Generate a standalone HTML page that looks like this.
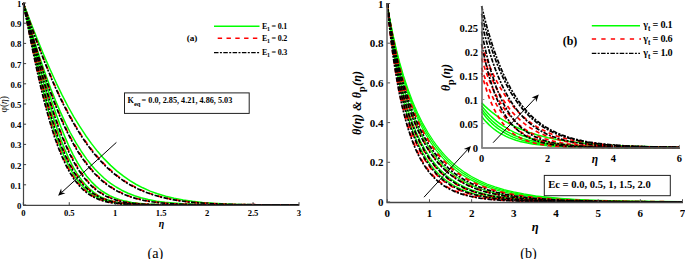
<!DOCTYPE html>
<html><head><meta charset="utf-8"><style>
html,body{margin:0;padding:0;background:#fff;width:685px;height:259px;overflow:hidden;}
svg{display:block;}
text{font-family:"Liberation Serif", serif;fill:#000;}
</style></head><body>
<svg width="685" height="259" viewBox="0 0 685 259" font-family='"Liberation Serif", serif'>
<rect width="685" height="259" fill="#fff"/>
<g stroke-linejoin="round">
<path d="M23.3 3.0L33.4 50.0L38.0 70.2L41.7 85.5L46.3 103.3L50.0 116.4L53.6 128.4L57.3 139.3L61.0 149.0L64.7 157.7L68.3 165.3L70.2 168.8L72.9 173.5L76.6 179.1L78.4 181.5L81.2 184.9L83.0 186.8L85.8 189.5L87.6 191.1L90.4 193.3L94.1 195.7L97.7 197.7L102.3 199.6L106.9 201.1L111.5 202.2L117.0 203.1L123.5 203.9L129.9 204.3L141.9 204.8L160.2 205.0L299.0 205.0" fill="none" stroke="#00ff00" stroke-width="1.50"/>
<path d="M23.3 3.0L38.9 65.6L46.3 93.4L50.0 106.3L53.6 118.4L57.3 129.5L61.0 139.8L64.7 149.1L68.3 157.4L72.0 164.8L73.8 168.2L76.6 172.8L80.3 178.3L82.1 180.7L84.9 184.1L86.7 186.1L89.5 188.8L94.1 192.6L97.7 195.1L101.4 197.1L106.0 199.2L110.6 200.7L115.2 201.9L120.7 202.9L127.1 203.7L133.6 204.2L146.4 204.7L164.8 205.0L299.0 205.0" fill="none" stroke="#00ff00" stroke-width="1.50"/>
<path d="M23.3 3.0L38.9 59.0L47.2 87.0L51.8 101.4L56.4 114.9L61.0 127.3L64.7 136.4L68.3 144.8L72.9 154.3L77.5 162.6L82.1 169.9L86.7 176.2L91.3 181.6L95.9 186.1L98.7 188.5L101.4 190.6L105.1 193.0L109.7 195.6L114.3 197.7L119.8 199.6L125.3 201.1L131.7 202.4L138.2 203.3L145.5 203.9L159.3 204.6L179.5 204.9L299.0 205.0" fill="none" stroke="#00ff00" stroke-width="1.50"/>
<path d="M23.3 3.0L28.8 22.2L34.3 40.4L39.8 57.7L45.4 73.9L50.9 88.9L55.5 100.6L60.1 111.4L65.6 123.4L70.2 132.5L75.7 142.4L81.2 151.2L86.7 159.1L92.2 166.0L95.0 169.2L98.7 173.0L104.2 178.2L106.9 180.5L110.6 183.3L116.1 187.0L121.6 190.2L128.1 193.3L134.5 195.8L140.9 197.8L148.3 199.6L156.6 201.2L164.8 202.3L173.1 203.1L182.3 203.8L193.3 204.3L205.3 204.6L236.5 204.9L299.0 205.0" fill="none" stroke="#00ff00" stroke-width="1.50"/>
<path d="M23.3 3.0L30.7 22.4L37.1 38.8L43.5 54.4L50.0 69.3L56.4 83.3L61.9 94.6L68.3 107.0L73.8 116.8L79.4 125.9L85.8 135.7L91.3 143.4L97.7 151.6L104.2 158.9L110.6 165.4L117.0 171.1L123.5 176.2L129.9 180.6L136.3 184.5L142.8 187.8L150.1 191.1L157.5 193.8L165.7 196.3L174.0 198.3L183.2 200.0L192.4 201.3L202.5 202.4L213.5 203.3L225.5 203.9L239.3 204.4L254.9 204.7L299.0 205.0" fill="none" stroke="#00ff00" stroke-width="1.50"/>
<path d="M23.3 3.0L32.5 48.6L37.1 69.8L40.8 85.7L44.4 100.6L48.1 114.3L51.8 126.8L55.5 138.1L59.1 148.2L62.8 157.1L66.5 165.0L68.3 168.5L71.1 173.3L74.8 179.0L76.6 181.5L79.4 184.8L81.2 186.9L84.0 189.6L85.8 191.2L88.5 193.3L92.2 195.8L95.9 197.7L100.5 199.7L105.1 201.1L109.7 202.2L115.2 203.2L121.6 203.9L128.1 204.4L140.0 204.8L158.4 205.0L299.0 205.0" fill="none" stroke="#ff0000" stroke-width="1.70" stroke-dasharray="4.8 4.6" stroke-dashoffset="0.00"/>
<path d="M23.3 3.0L35.2 54.8L39.8 73.7L43.5 88.0L47.2 101.6L50.9 114.2L54.5 125.8L58.2 136.5L61.9 146.2L65.6 154.8L69.2 162.5L71.1 166.0L73.8 170.8L75.7 173.8L78.4 177.9L80.3 180.3L83.0 183.7L84.9 185.7L87.6 188.4L92.2 192.3L95.9 194.8L99.6 196.8L104.2 198.9L108.8 200.5L114.3 201.9L119.8 202.9L126.2 203.7L132.7 204.2L145.5 204.7L163.9 205.0L299.0 205.0" fill="none" stroke="#ff0000" stroke-width="1.70" stroke-dasharray="4.8 4.6" stroke-dashoffset="0.00"/>
<path d="M23.3 3.0L37.1 55.6L41.7 72.4L45.4 85.3L50.0 100.6L53.6 112.0L58.2 125.2L61.9 134.9L65.6 143.7L70.2 153.7L74.8 162.5L79.4 170.0L84.0 176.5L88.5 182.0L93.1 186.7L95.9 189.0L98.7 191.2L102.3 193.6L106.9 196.2L111.5 198.2L117.0 200.1L122.6 201.5L128.1 202.5L134.5 203.4L141.9 204.0L155.6 204.7L174.9 204.9L299.0 205.0" fill="none" stroke="#ff0000" stroke-width="1.70" stroke-dasharray="4.8 4.6" stroke-dashoffset="0.00"/>
<path d="M23.3 3.0L28.8 22.9L34.3 41.9L39.8 59.9L44.4 74.0L50.0 89.8L54.5 102.0L59.1 113.3L64.7 125.7L69.2 135.1L74.8 145.3L79.4 152.9L84.9 161.0L90.4 168.1L95.9 174.3L101.4 179.5L104.2 181.9L107.8 184.7L113.4 188.5L118.9 191.6L124.4 194.2L130.8 196.7L137.3 198.6L144.6 200.4L152.0 201.7L160.2 202.7L168.5 203.5L177.7 204.0L187.8 204.4L199.7 204.7L231.0 205.0L299.0 205.0" fill="none" stroke="#ff0000" stroke-width="1.70" stroke-dasharray="4.8 4.6" stroke-dashoffset="0.00"/>
<path d="M23.3 3.0L29.7 21.7L35.2 37.0L41.7 54.0L47.2 67.7L53.6 82.8L59.1 94.8L64.7 106.1L70.2 116.5L75.7 126.1L82.1 136.4L87.6 144.4L94.1 152.8L100.5 160.2L106.9 166.8L113.4 172.6L119.8 177.7L126.2 182.1L132.7 185.8L139.1 189.1L146.4 192.2L153.8 194.8L162.1 197.1L170.3 199.0L179.5 200.6L188.7 201.8L198.8 202.8L209.9 203.5L221.8 204.1L235.6 204.5L252.1 204.7L299.0 205.0" fill="none" stroke="#ff0000" stroke-width="1.70" stroke-dasharray="4.8 4.6" stroke-dashoffset="0.00"/>
<path d="M23.3 3.0L27.9 26.6L32.5 49.4L36.2 66.8L39.8 83.1L43.5 98.4L47.2 112.4L50.9 125.3L54.5 136.9L58.2 147.2L61.9 156.4L65.6 164.4L67.4 168.0L70.2 173.0L73.8 178.7L75.7 181.3L78.4 184.7L80.3 186.8L83.0 189.5L84.9 191.2L87.6 193.3L91.3 195.8L95.0 197.8L98.7 199.4L103.3 200.9L107.8 202.1L113.4 203.1L119.8 203.9L126.2 204.3L138.2 204.8L156.6 205.0L299.0 205.0" fill="none" stroke="#000000" stroke-width="1.70" stroke-dasharray="4.5 1.4 2 1.4"/>
<path d="M23.3 3.0L34.3 51.7L38.9 71.0L42.6 85.7L47.2 102.9L50.9 115.6L54.5 127.3L58.2 137.9L61.9 147.6L65.6 156.2L69.2 163.8L71.1 167.2L73.8 172.0L75.7 174.9L78.4 178.9L80.3 181.3L83.0 184.6L84.9 186.5L87.6 189.2L92.2 192.9L95.9 195.3L99.6 197.3L104.2 199.3L108.8 200.8L114.3 202.2L119.8 203.1L126.2 203.8L132.7 204.3L145.5 204.8L163.9 205.0L299.0 205.0" fill="none" stroke="#000000" stroke-width="1.70" stroke-dasharray="4.5 1.4 2 1.4"/>
<path d="M23.3 3.0L37.1 56.4L41.7 73.4L45.4 86.4L50.0 101.8L53.6 113.2L58.2 126.5L61.9 136.2L65.6 145.0L70.2 154.9L73.8 162.0L78.4 169.7L83.0 176.3L87.6 181.9L92.2 186.6L95.0 189.0L97.7 191.1L101.4 193.6L106.0 196.2L110.6 198.2L116.1 200.1L121.6 201.6L127.1 202.6L133.6 203.4L140.9 204.1L154.7 204.7L174.0 204.9L299.0 205.0" fill="none" stroke="#000000" stroke-width="1.70" stroke-dasharray="4.5 1.4 2 1.4"/>
<path d="M23.3 3.0L28.8 23.2L34.3 42.4L39.8 60.6L44.4 74.8L50.0 90.7L54.5 102.9L59.1 114.3L63.7 124.8L68.3 134.3L73.8 144.7L78.4 152.4L84.0 160.6L89.5 167.8L95.0 174.0L100.5 179.4L103.3 181.8L106.9 184.6L112.4 188.4L118.0 191.5L123.5 194.2L129.9 196.7L136.3 198.6L143.7 200.4L151.0 201.7L159.3 202.7L167.6 203.5L176.8 204.0L186.9 204.4L198.8 204.7L230.1 205.0L299.0 205.0" fill="none" stroke="#000000" stroke-width="1.70" stroke-dasharray="4.5 1.4 2 1.4"/>
<path d="M23.3 3.0L29.7 21.9L35.2 37.3L41.7 54.5L47.2 68.3L53.6 83.5L59.1 95.6L64.7 106.9L70.2 117.3L75.7 126.9L81.2 135.8L86.7 143.9L93.1 152.4L99.6 159.9L106.0 166.6L112.4 172.4L118.9 177.5L125.3 182.0L131.7 185.8L138.2 189.0L145.5 192.2L152.9 194.8L161.2 197.1L169.4 199.0L178.6 200.6L187.8 201.8L197.9 202.8L208.9 203.5L220.9 204.1L234.7 204.5L251.2 204.7L299.0 205.0" fill="none" stroke="#000000" stroke-width="1.70" stroke-dasharray="4.5 1.4 2 1.4"/>
</g>
<path d="M23.5 2.50V205.4" fill="none" stroke="#444" stroke-width="1.2"/>
<path d="M23 205.4H299.40" fill="none" stroke="#444" stroke-width="1.3"/>
<path d="M23.30 205.00h2.8M23.30 184.80h2.8M23.30 164.60h2.8M23.30 144.40h2.8M23.30 124.20h2.8M23.30 104.00h2.8M23.30 83.80h2.8M23.30 63.60h2.8M23.30 43.40h2.8M23.30 23.20h2.8M23.30 3.00h2.8M23.30 205.00v-2.8M69.25 205.00v-2.8M115.20 205.00v-2.8M161.15 205.00v-2.8M207.10 205.00v-2.8M253.05 205.00v-2.8M299.00 205.00v-2.8" stroke="#404040" stroke-width="1" fill="none"/>
<text x="21.40" y="209.00" font-size="8.80" text-anchor="end" font-weight="bold" font-style="normal" >0</text>
<text x="21.40" y="188.80" font-size="8.80" text-anchor="end" font-weight="bold" font-style="normal" >0.1</text>
<text x="21.40" y="168.60" font-size="8.80" text-anchor="end" font-weight="bold" font-style="normal" >0.2</text>
<text x="21.40" y="148.40" font-size="8.80" text-anchor="end" font-weight="bold" font-style="normal" >0.3</text>
<text x="21.40" y="128.20" font-size="8.80" text-anchor="end" font-weight="bold" font-style="normal" >0.4</text>
<text x="21.40" y="108.00" font-size="8.80" text-anchor="end" font-weight="bold" font-style="normal" >0.5</text>
<text x="21.40" y="87.80" font-size="8.80" text-anchor="end" font-weight="bold" font-style="normal" >0.6</text>
<text x="21.40" y="67.60" font-size="8.80" text-anchor="end" font-weight="bold" font-style="normal" >0.7</text>
<text x="21.40" y="47.40" font-size="8.80" text-anchor="end" font-weight="bold" font-style="normal" >0.8</text>
<text x="21.40" y="27.20" font-size="8.80" text-anchor="end" font-weight="bold" font-style="normal" >0.9</text>
<text x="21.40" y="7.00" font-size="8.80" text-anchor="end" font-weight="bold" font-style="normal" >1</text>
<text x="23.30" y="216.20" font-size="8.60" text-anchor="middle" font-weight="bold" font-style="normal" >0</text>
<text x="69.25" y="216.20" font-size="8.60" text-anchor="middle" font-weight="bold" font-style="normal" >0.5</text>
<text x="115.20" y="216.20" font-size="8.60" text-anchor="middle" font-weight="bold" font-style="normal" >1</text>
<text x="161.15" y="216.20" font-size="8.60" text-anchor="middle" font-weight="bold" font-style="normal" >1.5</text>
<text x="207.10" y="216.20" font-size="8.60" text-anchor="middle" font-weight="bold" font-style="normal" >2</text>
<text x="253.05" y="216.20" font-size="8.60" text-anchor="middle" font-weight="bold" font-style="normal" >2.5</text>
<text x="299.00" y="216.20" font-size="8.60" text-anchor="middle" font-weight="bold" font-style="normal" >3</text>
<text x="161.50" y="227.20" font-size="10.00" text-anchor="middle" font-weight="bold" font-style="italic" >&#951;</text>
<text x="0.00" y="0.00" font-size="9.50" text-anchor="middle" font-weight="normal" font-style="normal" transform="translate(6.8,104.3) rotate(-90)">&#966;(<tspan font-style="italic">&#951;</tspan>)</text>
<path d="M214 26.3H259.5" stroke="#00ff00" stroke-width="1.5"/>
<path d="M217.7 38.3H259.5" stroke="#ff0000" stroke-width="1.5" stroke-dasharray="4.4 4.4"/>
<path d="M214 52.6H259.5" stroke="#000000" stroke-width="1.4" stroke-dasharray="4.5 1.4 2 1.4"/>
<text x="262" y="28.70" font-size="8" font-weight="bold" letter-spacing="-0.25">E<tspan font-size="6" dy="2.4">1</tspan><tspan dy="-2.4"> = 0.1</tspan></text>
<text x="262" y="40.70" font-size="8" font-weight="bold" letter-spacing="-0.25">E<tspan font-size="6" dy="2.4">1</tspan><tspan dy="-2.4"> = 0.2</tspan></text>
<text x="262" y="55.00" font-size="8" font-weight="bold" letter-spacing="-0.25">E<tspan font-size="6" dy="2.4">1</tspan><tspan dy="-2.4"> = 0.3</tspan></text>
<text x="192.00" y="40.80" font-size="9.20" text-anchor="middle" font-weight="bold" font-style="normal" >(a)</text>
<rect x="124.5" y="92.9" width="124.7" height="20.5" fill="#fff" stroke="#202020" stroke-width="1"/>
<text x="127.5" y="102.6" font-size="8.2" font-weight="bold">K<tspan font-size="6.6" dy="3.2">eq</tspan><tspan dy="-3.2" dx="-0.9"> = 0.0, 2.85, 4.21, 4.86, 5.03</tspan></text>
<path d="M116.40 142.40L61.72 192.39" stroke="#000" stroke-width="1.00"/><path d="M58.10 195.70L61.11 188.62L61.72 192.39L65.43 193.34Z" fill="#000"/>
<text x="155.30" y="258.30" font-size="14.20" text-anchor="middle" font-weight="normal" font-style="normal" >(a)</text>
<g stroke-linejoin="round">
<path d="M387.3 3.5L388.8 17.8L391.0 35.1L393.9 54.7L396.9 71.3L399.8 85.8L402.8 98.4L406.5 112.0L410.2 123.7L413.9 133.7L416.1 139.1L418.3 144.0L420.5 148.5L422.7 152.6L427.2 159.9L429.4 163.1L432.3 167.0L434.5 169.6L437.5 172.8L440.4 175.7L443.4 178.2L446.3 180.6L449.3 182.6L452.2 184.5L455.2 186.2L461.1 189.1L467.7 191.7L474.4 193.8L481.8 195.6L490.6 197.2L499.5 198.4L509.8 199.5L520.9 200.2L532.7 200.8L546.7 201.2L562.9 201.5L605.7 201.9L682.5 202.0" fill="none" stroke="#00ff00" stroke-width="1.25"/>
<path d="M387.3 3.5L388.8 16.5L391.7 37.1L394.7 54.4L397.6 69.5L400.6 82.7L404.3 97.1L408.0 109.6L410.2 116.3L412.4 122.4L416.1 131.7L420.5 141.2L424.9 149.4L427.2 153.0L430.1 157.5L432.3 160.5L435.3 164.2L437.5 166.8L440.4 170.0L443.4 172.8L446.3 175.4L449.3 177.7L453.0 180.4L458.9 184.0L465.5 187.3L472.2 190.0L479.6 192.4L487.7 194.5L496.5 196.2L506.1 197.7L516.5 198.8L527.5 199.7L540.1 200.4L554.1 200.9L570.3 201.3L612.4 201.8L682.5 202.0" fill="none" stroke="#00ff00" stroke-width="1.25"/>
<path d="M387.3 3.5L388.8 15.1L391.7 33.7L394.7 49.5L398.4 66.6L402.1 81.5L405.8 94.4L409.4 105.8L413.9 117.7L418.3 128.0L422.7 137.0L424.9 141.0L427.9 146.0L430.1 149.4L433.1 153.6L438.2 160.2L441.2 163.5L444.1 166.6L447.1 169.4L450.8 172.6L453.7 174.9L457.4 177.5L460.4 179.4L464.1 181.6L470.7 184.9L478.1 188.0L485.5 190.5L494.3 192.9L503.2 194.8L512.8 196.4L523.8 197.8L535.6 198.9L548.2 199.8L562.2 200.4L578.4 201.0L597.6 201.4L619.8 201.6L682.5 201.9" fill="none" stroke="#00ff00" stroke-width="1.25"/>
<path d="M387.3 3.5L388.0 9.0L389.5 18.4L392.5 34.5L395.4 48.5L399.1 63.9L402.8 77.5L407.2 91.7L411.7 104.1L416.1 114.9L420.5 124.5L422.7 128.8L425.7 134.2L430.8 142.6L433.8 146.9L436.7 150.8L439.7 154.5L442.7 157.9L445.6 161.0L448.6 163.9L451.5 166.6L455.2 169.7L458.1 171.9L461.8 174.5L468.5 178.6L475.9 182.4L483.2 185.6L491.4 188.5L500.2 191.1L509.8 193.3L520.1 195.1L531.2 196.7L543.0 198.0L555.6 199.0L570.3 199.8L586.6 200.5L605.0 201.0L626.4 201.4L682.5 201.8" fill="none" stroke="#00ff00" stroke-width="1.25"/>
<path d="M387.3 3.5L388.0 8.8L389.5 17.8L392.5 33.4L396.2 50.2L399.8 64.8L403.5 77.7L408.0 91.4L412.4 103.3L416.8 113.8L421.2 123.1L426.4 132.6L431.6 140.9L434.5 145.2L437.5 149.1L440.4 152.7L443.4 156.1L449.3 162.2L452.2 164.9L455.9 168.0L459.6 170.8L463.3 173.4L470.0 177.5L477.3 181.4L485.5 184.9L493.6 187.8L502.4 190.4L512.0 192.6L522.4 194.6L533.4 196.2L545.2 197.5L558.5 198.7L572.5 199.6L588.8 200.3L607.2 200.8L627.9 201.3L682.5 201.8" fill="none" stroke="#00ff00" stroke-width="1.25"/>
<path d="M387.3 3.5L388.0 8.7L389.5 17.3L392.5 32.4L396.2 48.8L399.8 63.0L403.5 75.7L408.0 89.1L412.4 100.9L414.6 106.2L417.6 112.9L422.7 123.4L427.9 132.5L433.1 140.5L436.0 144.6L439.0 148.5L441.9 152.0L444.9 155.3L447.8 158.4L451.5 162.0L454.5 164.6L458.1 167.6L464.8 172.4L471.4 176.5L478.8 180.4L486.9 184.0L495.0 186.9L503.9 189.6L513.5 191.9L523.8 193.9L535.6 195.8L547.4 197.1L560.7 198.3L574.8 199.3L591.0 200.1L608.7 200.7L629.4 201.1L682.5 201.7" fill="none" stroke="#00ff00" stroke-width="1.25"/>
<path d="M387.3 3.5L388.8 19.8L391.0 39.3L393.2 55.9L396.2 74.9L399.1 90.9L402.1 104.7L405.0 116.6L408.0 126.9L411.7 137.9L415.3 147.2L419.0 155.0L421.2 159.2L423.5 162.9L425.7 166.3L427.9 169.4L430.1 172.3L433.1 175.6L435.3 177.9L438.2 180.6L441.2 183.0L444.1 185.1L449.3 188.2L454.5 190.8L460.4 193.1L467.0 195.1L474.4 196.8L481.8 198.1L490.6 199.2L501.0 200.1L511.3 200.7L522.4 201.2L551.9 201.7L594.7 201.9L682.5 202.0" fill="none" stroke="#ff0000" stroke-width="1.80" stroke-dasharray="4.8 4.6" stroke-dashoffset="0.00"/>
<path d="M387.3 3.5L388.8 18.5L391.0 36.7L393.2 52.3L396.2 70.2L399.1 85.6L402.1 98.9L405.8 113.2L409.4 125.4L413.1 135.7L416.8 144.6L419.0 149.3L421.2 153.6L423.5 157.5L425.7 161.1L430.1 167.4L432.3 170.1L435.3 173.4L438.2 176.4L441.2 179.0L444.1 181.4L447.1 183.5L452.2 186.7L458.1 189.6L464.8 192.3L471.4 194.3L478.8 196.1L486.9 197.5L495.8 198.7L506.1 199.7L516.5 200.4L528.3 200.9L542.3 201.3L558.5 201.6L601.3 201.9L682.5 202.0" fill="none" stroke="#ff0000" stroke-width="1.80" stroke-dasharray="4.8 4.6" stroke-dashoffset="0.00"/>
<path d="M387.3 3.5L388.8 17.0L391.7 38.4L394.7 56.3L397.6 71.8L400.6 85.3L404.3 100.0L408.0 112.6L411.7 123.5L415.3 133.0L417.6 138.1L419.8 142.7L424.2 151.0L426.4 154.7L429.4 159.2L431.6 162.3L434.5 166.0L436.7 168.5L439.7 171.6L442.7 174.4L445.6 177.0L448.6 179.3L451.5 181.4L457.4 184.9L463.3 187.9L470.0 190.6L477.3 193.0L485.5 195.0L493.6 196.6L503.2 198.0L513.5 199.1L524.6 199.9L536.4 200.5L550.4 201.0L567.4 201.4L609.4 201.8L682.5 202.0" fill="none" stroke="#ff0000" stroke-width="1.80" stroke-dasharray="4.8 4.6" stroke-dashoffset="0.00"/>
<path d="M387.3 3.5L388.8 15.4L391.7 34.6L394.7 50.9L398.4 68.4L401.3 80.7L405.0 94.2L408.7 106.0L413.1 118.3L417.6 128.9L422.0 138.1L424.2 142.2L427.2 147.2L429.4 150.7L432.3 155.0L434.5 158.0L437.5 161.6L440.4 164.9L443.4 168.0L446.3 170.7L449.3 173.3L452.2 175.6L455.9 178.3L461.8 181.9L468.5 185.3L475.9 188.5L483.2 191.0L491.4 193.2L501.0 195.2L510.5 196.8L521.6 198.1L532.7 199.1L545.2 199.9L560.0 200.6L576.2 201.1L594.7 201.4L617.6 201.7L682.5 201.9" fill="none" stroke="#ff0000" stroke-width="1.80" stroke-dasharray="4.8 4.6" stroke-dashoffset="0.00"/>
<path d="M387.3 3.5L388.0 9.2L389.5 18.8L392.5 35.3L395.4 49.7L399.1 65.4L402.8 79.2L406.5 91.3L410.9 104.1L415.3 115.3L419.8 125.1L422.0 129.5L424.9 135.0L430.1 143.5L435.3 150.9L438.2 154.7L441.2 158.1L444.1 161.4L447.1 164.3L450.0 167.0L453.7 170.2L456.7 172.5L460.4 175.1L467.0 179.2L470.7 181.2L474.4 183.0L481.8 186.2L489.9 189.1L498.7 191.6L507.6 193.6L517.9 195.4L529.0 197.0L540.8 198.2L553.4 199.2L568.1 200.0L584.3 200.6L602.8 201.1L624.2 201.5L682.5 201.9" fill="none" stroke="#ff0000" stroke-width="1.80" stroke-dasharray="4.8 4.6" stroke-dashoffset="0.00"/>
<path d="M387.3 3.5L388.8 20.1L391.0 40.0L393.2 56.8L396.2 76.0L399.1 92.2L402.1 106.0L405.0 117.9L408.0 128.3L411.7 139.3L415.3 148.5L419.0 156.3L421.2 160.4L423.5 164.1L425.7 167.5L427.9 170.6L430.1 173.3L432.3 175.8L434.5 178.1L437.5 180.9L440.4 183.3L443.4 185.4L448.6 188.5L453.7 191.1L459.6 193.4L466.3 195.4L472.9 196.9L481.0 198.3L489.9 199.4L499.5 200.2L509.1 200.7L520.9 201.2L550.4 201.7L593.2 201.9L682.5 202.0" fill="none" stroke="#000000" stroke-width="1.70" stroke-dasharray="4.5 1.4 2 1.4"/>
<path d="M387.3 3.5L388.8 18.3L391.0 36.2L393.9 56.3L396.9 73.3L399.8 88.0L402.8 100.8L406.5 114.6L410.2 126.3L413.9 136.4L417.6 145.0L419.8 149.6L422.0 153.7L424.2 157.6L426.4 161.1L430.8 167.3L433.1 170.0L436.0 173.3L439.0 176.2L441.9 178.8L444.9 181.2L447.8 183.3L453.0 186.4L458.9 189.4L465.5 192.0L472.2 194.1L479.6 195.9L487.7 197.4L497.3 198.7L507.6 199.7L517.9 200.3L529.7 200.9L543.8 201.3L560.0 201.6L602.8 201.9L682.5 202.0" fill="none" stroke="#000000" stroke-width="1.70" stroke-dasharray="4.5 1.4 2 1.4"/>
<path d="M387.3 3.5L388.8 16.9L391.7 38.1L394.7 55.9L397.6 71.2L400.6 84.7L404.3 99.3L408.0 111.9L411.7 122.8L415.3 132.2L417.6 137.3L419.8 142.0L424.2 150.3L426.4 154.0L429.4 158.5L431.6 161.6L434.5 165.4L436.7 167.9L439.7 171.1L442.7 173.9L445.6 176.5L448.6 178.8L451.5 180.9L457.4 184.5L463.3 187.5L470.0 190.3L477.3 192.7L485.5 194.8L494.3 196.5L503.9 197.9L514.2 199.0L525.3 199.9L537.9 200.5L551.9 201.0L568.1 201.4L610.2 201.8L682.5 202.0" fill="none" stroke="#000000" stroke-width="1.70" stroke-dasharray="4.5 1.4 2 1.4"/>
<path d="M387.3 3.5L388.8 15.6L391.7 34.9L394.7 51.3L398.4 68.9L401.3 81.2L405.0 94.8L408.7 106.7L413.1 119.0L417.6 129.6L422.0 138.7L426.4 146.6L428.6 150.2L431.6 154.6L433.8 157.6L436.7 161.3L439.7 164.7L442.7 167.8L445.6 170.6L449.3 173.8L452.2 176.1L455.9 178.7L461.8 182.3L468.5 185.7L475.9 188.8L483.2 191.2L491.4 193.4L501.0 195.4L510.5 196.9L521.6 198.3L532.7 199.2L545.2 200.0L560.0 200.7L576.2 201.1L617.6 201.7L682.5 201.9" fill="none" stroke="#000000" stroke-width="1.70" stroke-dasharray="4.5 1.4 2 1.4"/>
<path d="M387.3 3.5L388.8 14.6L391.7 32.6L394.7 47.9L398.4 64.6L402.1 79.1L405.8 91.8L410.2 105.1L414.6 116.7L419.0 126.7L421.2 131.2L424.2 136.8L426.4 140.7L429.4 145.5L434.5 152.9L439.7 159.3L442.7 162.6L445.6 165.6L448.6 168.4L452.2 171.5L455.2 173.8L458.9 176.4L465.5 180.5L472.2 183.9L479.6 187.1L487.7 189.9L496.5 192.3L505.4 194.3L515.0 195.9L526.0 197.4L537.9 198.6L550.4 199.5L565.2 200.3L581.4 200.8L599.8 201.2L622.0 201.6L682.5 201.9" fill="none" stroke="#000000" stroke-width="1.70" stroke-dasharray="4.5 1.4 2 1.4"/>
</g>
<path d="M387 3.00V202.5" fill="none" stroke="#666" stroke-width="1.5"/>
<path d="M386.5 202.5H682.90" fill="none" stroke="#444" stroke-width="1.3"/>
<path d="M387.30 202.00h2.8M387.30 162.30h2.8M387.30 122.60h2.8M387.30 82.90h2.8M387.30 43.20h2.8M387.30 3.50h2.8M387.30 202.00v-2.8M429.47 202.00v-2.8M471.64 202.00v-2.8M513.81 202.00v-2.8M555.99 202.00v-2.8M598.16 202.00v-2.8M640.33 202.00v-2.8M682.50 202.00v-2.8" stroke="#555" stroke-width="1" fill="none"/>
<text x="383.50" y="205.90" font-size="11.00" text-anchor="end" font-weight="bold" font-style="normal" >0</text>
<text x="383.50" y="166.20" font-size="11.00" text-anchor="end" font-weight="bold" font-style="normal" >0.2</text>
<text x="383.50" y="126.50" font-size="11.00" text-anchor="end" font-weight="bold" font-style="normal" >0.4</text>
<text x="383.50" y="86.80" font-size="11.00" text-anchor="end" font-weight="bold" font-style="normal" >0.6</text>
<text x="383.50" y="47.10" font-size="11.00" text-anchor="end" font-weight="bold" font-style="normal" >0.8</text>
<text x="383.50" y="8.30" font-size="11.00" text-anchor="end" font-weight="bold" font-style="normal" >1</text>
<text x="387.30" y="216.60" font-size="11.00" text-anchor="middle" font-weight="bold" font-style="normal" >0</text>
<text x="429.47" y="216.60" font-size="11.00" text-anchor="middle" font-weight="bold" font-style="normal" >1</text>
<text x="471.64" y="216.60" font-size="11.00" text-anchor="middle" font-weight="bold" font-style="normal" >2</text>
<text x="513.81" y="216.60" font-size="11.00" text-anchor="middle" font-weight="bold" font-style="normal" >3</text>
<text x="555.99" y="216.60" font-size="11.00" text-anchor="middle" font-weight="bold" font-style="normal" >4</text>
<text x="598.16" y="216.60" font-size="11.00" text-anchor="middle" font-weight="bold" font-style="normal" >5</text>
<text x="640.33" y="216.60" font-size="11.00" text-anchor="middle" font-weight="bold" font-style="normal" >6</text>
<text x="682.50" y="216.60" font-size="11.00" text-anchor="middle" font-weight="bold" font-style="normal" >7</text>
<text x="535.20" y="230.50" font-size="12.50" text-anchor="middle" font-weight="bold" font-style="italic" >&#951;</text>
<text x="0.00" y="0.00" font-size="12.20" text-anchor="middle" font-weight="bold" font-style="italic" transform="translate(360.6,103) rotate(-90)">&#952;(&#951;) &amp; &#952;<tspan font-size="10" dy="4.2" font-style="normal">p</tspan><tspan dy="-4.2" dx="0.6">(&#951;)</tspan></text>
<rect x="544.3" y="175.4" width="126" height="20.3" fill="#fff" stroke="#202020" stroke-width="1"/>
<text x="548.20" y="188.40" font-size="10.60" text-anchor="start" font-weight="bold" font-style="normal" >Ec = 0.0, 0.5, 1, 1.5, 2.0</text>
<path d="M424.00 197.20L467.59 149.61" stroke="#000" stroke-width="1.00"/><path d="M470.90 146.00L468.53 153.32L467.59 149.61L463.81 149.00Z" fill="#000"/>
<text x="528.50" y="258.30" font-size="14.20" text-anchor="middle" font-weight="normal" font-style="normal" >(b)</text>
<g stroke-linejoin="round">
<path d="M481.6 102.9L484.9 106.1L488.2 109.1L491.5 111.9L495.4 114.9L498.7 117.3L502.7 119.9L506.7 122.2L510.6 124.4L514.6 126.4L519.2 128.5L523.8 130.4L528.4 132.1L537.6 135.0L548.2 137.7L559.4 139.9L571.3 141.8L584.5 143.3L599.0 144.5L614.8 145.5L633.2 146.2L654.3 146.8L679.4 147.2" fill="none" stroke="#00ff00" stroke-width="1.50"/>
<path d="M481.6 105.8L484.2 109.1L487.5 112.8L490.2 115.5L493.5 118.6L496.8 121.4L500.1 123.9L503.4 126.2L506.7 128.2L510.0 130.1L513.9 132.1L517.9 133.9L521.8 135.5L525.8 136.9L530.4 138.3L535.0 139.5L540.3 140.7L550.2 142.6L561.4 144.1L573.9 145.2L588.4 146.1L604.9 146.7L624.0 147.2L647.8 147.4L679.4 147.6" fill="none" stroke="#00ff00" stroke-width="1.50"/>
<path d="M481.6 108.7L484.2 112.2L486.9 115.3L489.5 118.2L492.1 120.8L494.8 123.1L498.1 125.8L501.4 128.2L504.7 130.3L508.0 132.2L511.9 134.2L515.2 135.7L519.2 137.3L523.1 138.6L527.8 140.0L532.4 141.1L537.0 142.1L546.2 143.7L556.8 144.9L568.6 145.9L583.1 146.6L599.0 147.1L618.7 147.4L679.4 147.7" fill="none" stroke="#00ff00" stroke-width="1.50"/>
<path d="M481.6 111.6L486.2 117.5L488.9 120.4L491.5 123.1L494.1 125.5L497.4 128.1L500.1 130.0L503.4 132.2L506.7 134.0L510.0 135.7L513.2 137.1L517.2 138.6L521.2 139.9L525.1 141.0L529.7 142.1L534.3 143.0L543.6 144.4L553.5 145.5L565.3 146.3L579.2 146.9L595.0 147.3L614.8 147.5L679.4 147.7" fill="none" stroke="#00ff00" stroke-width="1.50"/>
<path d="M481.6 116.4L483.6 118.9L486.2 121.9L488.9 124.6L491.5 127.0L494.1 129.2L496.8 131.1L499.4 132.8L502.7 134.7L506.0 136.4L509.3 137.9L515.9 140.2L519.8 141.4L523.8 142.3L532.4 144.0L540.9 145.1L550.8 146.0L562.0 146.6L575.9 147.1L591.7 147.4L611.5 147.6L679.4 147.7" fill="none" stroke="#00ff00" stroke-width="1.50"/>
<path d="M481.6 45.0L484.2 52.5L487.5 61.2L490.2 67.5L493.5 74.8L496.8 81.4L500.1 87.4L503.4 92.9L507.3 98.8L511.3 104.0L515.2 108.7L519.2 112.9L523.1 116.7L527.8 120.5L532.4 123.9L537.0 126.9L542.3 129.8L546.9 132.0L552.1 134.3L557.4 136.2L563.4 138.0L569.3 139.5L575.9 140.9L583.1 142.2L590.4 143.2L598.3 144.1L606.9 144.9L616.1 145.6L626.0 146.1L649.1 146.9L679.4 147.4" fill="none" stroke="#ff0000" stroke-width="1.70" stroke-dasharray="4.2 3.4"/>
<path d="M481.6 51.3L484.2 59.2L486.9 66.5L489.5 73.1L492.8 80.7L496.1 87.5L499.4 93.6L502.7 99.1L506.0 104.0L509.3 108.5L513.2 113.2L517.2 117.3L521.2 121.0L525.1 124.2L529.7 127.5L534.3 130.3L539.0 132.7L543.6 134.8L548.9 136.8L554.1 138.5L559.4 140.0L565.3 141.3L571.9 142.6L578.5 143.6L585.8 144.4L593.0 145.1L601.6 145.7L621.4 146.7L645.8 147.2L679.4 147.5" fill="none" stroke="#ff0000" stroke-width="1.70" stroke-dasharray="4.2 3.4"/>
<path d="M481.6 58.5L484.2 66.7L486.9 74.1L489.5 80.8L492.1 87.0L494.8 92.5L498.1 98.8L500.7 103.2L504.0 108.3L507.3 112.7L511.3 117.4L514.6 120.8L518.5 124.4L522.5 127.6L526.4 130.3L531.0 133.0L535.7 135.2L540.3 137.2L544.9 138.8L550.2 140.4L555.4 141.6L561.4 142.8L567.3 143.8L573.9 144.6L581.2 145.3L597.0 146.4L616.8 147.0L642.5 147.4L679.4 147.6" fill="none" stroke="#ff0000" stroke-width="1.70" stroke-dasharray="4.2 3.4"/>
<path d="M481.6 67.7L483.6 74.0L486.2 81.7L488.9 88.5L491.5 94.7L494.1 100.2L496.8 105.1L499.4 109.5L502.7 114.4L506.0 118.7L509.3 122.4L512.6 125.6L515.9 128.5L519.8 131.4L523.8 133.8L527.8 135.9L532.4 138.0L536.3 139.5L540.9 140.9L545.6 142.1L550.8 143.2L556.1 144.1L562.0 144.9L568.6 145.6L575.9 146.1L591.7 146.9L611.5 147.3L637.9 147.6L679.4 147.7" fill="none" stroke="#ff0000" stroke-width="1.70" stroke-dasharray="4.2 3.4"/>
<path d="M481.6 73.0L483.6 80.4L485.6 87.1L487.5 93.1L489.5 98.5L491.5 103.4L494.1 109.1L496.8 114.1L499.4 118.5L502.0 122.3L505.3 126.4L508.0 129.1L511.3 132.1L514.6 134.6L517.9 136.7L521.8 138.8L525.8 140.4L529.7 141.8L533.7 142.9L537.6 143.8L542.3 144.7L547.5 145.4L552.8 146.0L565.3 146.8L579.8 147.3L599.6 147.6L679.4 147.7" fill="none" stroke="#ff0000" stroke-width="1.70" stroke-dasharray="4.2 3.4"/>
<path d="M481.6 6.0L484.2 16.8L487.5 29.1L490.2 38.2L493.5 48.5L496.8 57.8L500.1 66.3L503.4 74.0L506.7 80.9L510.6 88.4L514.6 95.0L518.5 100.9L522.5 106.2L526.4 110.8L531.0 115.6L535.7 119.8L540.9 123.9L545.6 126.9L550.8 130.0L556.1 132.6L562.0 135.0L568.0 137.1L574.6 139.0L581.8 140.7L589.1 142.1L597.0 143.3L605.6 144.3L614.8 145.1L624.7 145.8L635.9 146.3L648.4 146.8L679.4 147.3" fill="none" stroke="#000000" stroke-width="1.70" stroke-dasharray="4.5 1.4 2 1.4"/>
<path d="M481.6 13.7L484.2 24.0L487.5 35.8L490.2 44.4L493.5 54.2L496.8 63.1L500.1 71.2L503.4 78.4L506.7 85.0L510.6 92.1L514.6 98.4L518.5 104.0L522.5 108.9L526.4 113.3L531.0 117.8L535.7 121.7L540.9 125.6L545.6 128.4L550.8 131.3L556.1 133.7L562.0 136.0L568.0 137.9L574.6 139.7L581.8 141.3L589.1 142.6L597.0 143.7L605.6 144.6L614.8 145.3L624.7 146.0L635.9 146.5L648.4 146.8L679.4 147.4" fill="none" stroke="#000000" stroke-width="1.70" stroke-dasharray="4.5 1.4 2 1.4"/>
<path d="M481.6 22.4L484.2 33.1L486.9 42.9L489.5 51.9L492.8 62.1L495.4 69.4L498.7 77.7L502.0 85.1L505.3 91.7L508.6 97.7L512.6 104.0L515.9 108.6L519.8 113.5L523.8 117.8L528.4 122.2L533.0 125.9L537.6 129.0L542.3 131.7L547.5 134.4L552.8 136.5L558.1 138.4L564.0 140.1L570.6 141.6L577.2 142.8L584.5 143.9L591.7 144.7L600.3 145.5L609.5 146.1L620.1 146.6L645.1 147.2L679.4 147.5" fill="none" stroke="#000000" stroke-width="1.70" stroke-dasharray="4.5 1.4 2 1.4"/>
<path d="M481.6 31.5L483.6 41.3L486.2 53.0L488.2 60.9L490.8 70.5L493.5 79.0L496.1 86.6L498.7 93.3L502.0 100.7L504.7 105.9L508.0 111.5L511.3 116.5L514.6 120.7L517.9 124.4L521.8 128.1L525.8 131.3L530.4 134.3L534.3 136.4L539.0 138.5L543.6 140.2L548.9 141.8L554.1 143.0L560.1 144.1L566.7 145.0L573.2 145.7L580.5 146.2L588.4 146.7L608.2 147.3L635.2 147.6L679.4 147.7" fill="none" stroke="#000000" stroke-width="1.70" stroke-dasharray="4.5 1.4 2 1.4"/>
<path d="M481.6 44.1L483.6 53.7L485.6 62.4L487.5 70.4L490.2 79.8L492.8 88.1L495.4 95.4L498.1 101.7L500.7 107.3L503.4 112.3L506.7 117.6L509.3 121.3L512.6 125.2L515.9 128.6L519.8 132.0L523.8 134.8L527.8 137.1L531.7 138.9L535.7 140.5L540.3 142.0L544.9 143.1L550.2 144.2L555.4 145.0L561.4 145.7L568.6 146.3L583.1 147.0L602.9 147.4L630.6 147.6L679.4 147.7" fill="none" stroke="#000000" stroke-width="1.70" stroke-dasharray="4.5 1.4 2 1.4"/>
</g>
<path d="M482 6V148H679.70" fill="none" stroke="#666" stroke-width="1.5"/>
<path d="M481.60 147.70h2.8M481.60 123.60h2.8M481.60 99.50h2.8M481.60 75.40h2.8M481.60 51.30h2.8M481.60 27.20h2.8M481.60 147.70v-2.8M547.53 147.70v-2.8M613.47 147.70v-2.8M679.40 147.70v-2.8" stroke="#888" stroke-width="1" fill="none"/>
<text x="478.00" y="152.00" font-size="10.60" text-anchor="end" font-weight="bold" font-style="normal" >0</text>
<text x="478.00" y="127.90" font-size="10.60" text-anchor="end" font-weight="bold" font-style="normal" >0.05</text>
<text x="478.00" y="103.80" font-size="10.60" text-anchor="end" font-weight="bold" font-style="normal" >0.1</text>
<text x="478.00" y="79.70" font-size="10.60" text-anchor="end" font-weight="bold" font-style="normal" >0.15</text>
<text x="478.00" y="55.60" font-size="10.60" text-anchor="end" font-weight="bold" font-style="normal" >0.2</text>
<text x="478.00" y="31.50" font-size="10.60" text-anchor="end" font-weight="bold" font-style="normal" >0.25</text>
<text x="481.60" y="161.50" font-size="10.40" text-anchor="middle" font-weight="bold" font-style="normal" >0</text>
<text x="547.53" y="161.50" font-size="10.40" text-anchor="middle" font-weight="bold" font-style="normal" >2</text>
<text x="613.47" y="161.50" font-size="10.40" text-anchor="middle" font-weight="bold" font-style="normal" >4</text>
<text x="679.40" y="161.50" font-size="10.40" text-anchor="middle" font-weight="bold" font-style="normal" >6</text>
<text x="595.00" y="163.00" font-size="11.50" text-anchor="middle" font-weight="bold" font-style="italic" >&#951;</text>
<text x="0.00" y="0.00" font-size="11.80" text-anchor="middle" font-weight="bold" font-style="italic" transform="translate(449.8,77.6) rotate(-90)">&#952;<tspan font-size="10" dy="4.6" font-style="normal">p</tspan><tspan dy="-4.6" dx="0.8">(&#951;)</tspan></text>
<path d="M493.10 142.70L535.42 98.15" stroke="#000" stroke-width="1.00"/><path d="M538.80 94.60L536.30 101.88L535.42 98.15L531.66 97.47Z" fill="#000"/>
<path d="M591.8 25.8H640" stroke="#00ff00" stroke-width="1.5"/>
<path d="M591.8 38.9H641" stroke="#ff0000" stroke-width="1.5" stroke-dasharray="4.3 5.2"/>
<path d="M591.8 53.4H640" stroke="#000000" stroke-width="1.4" stroke-dasharray="4.5 1.4 2 1.4"/>
<text x="643.3" y="28.20" font-size="10.2" font-weight="bold" letter-spacing="-0.2">&#947;<tspan font-size="7.2" dy="3">t</tspan><tspan dy="-3"> = 0.1</tspan></text>
<text x="643.3" y="41.50" font-size="10.2" font-weight="bold" letter-spacing="-0.2">&#947;<tspan font-size="7.2" dy="3">t</tspan><tspan dy="-3"> = 0.6</tspan></text>
<text x="643.3" y="55.80" font-size="10.2" font-weight="bold" letter-spacing="-0.2">&#947;<tspan font-size="7.2" dy="3">t</tspan><tspan dy="-3"> = 1.0</tspan></text>
<text x="570.00" y="45.20" font-size="12.00" text-anchor="middle" font-weight="bold" font-style="normal" >(b)</text>
</svg>
</body></html>
